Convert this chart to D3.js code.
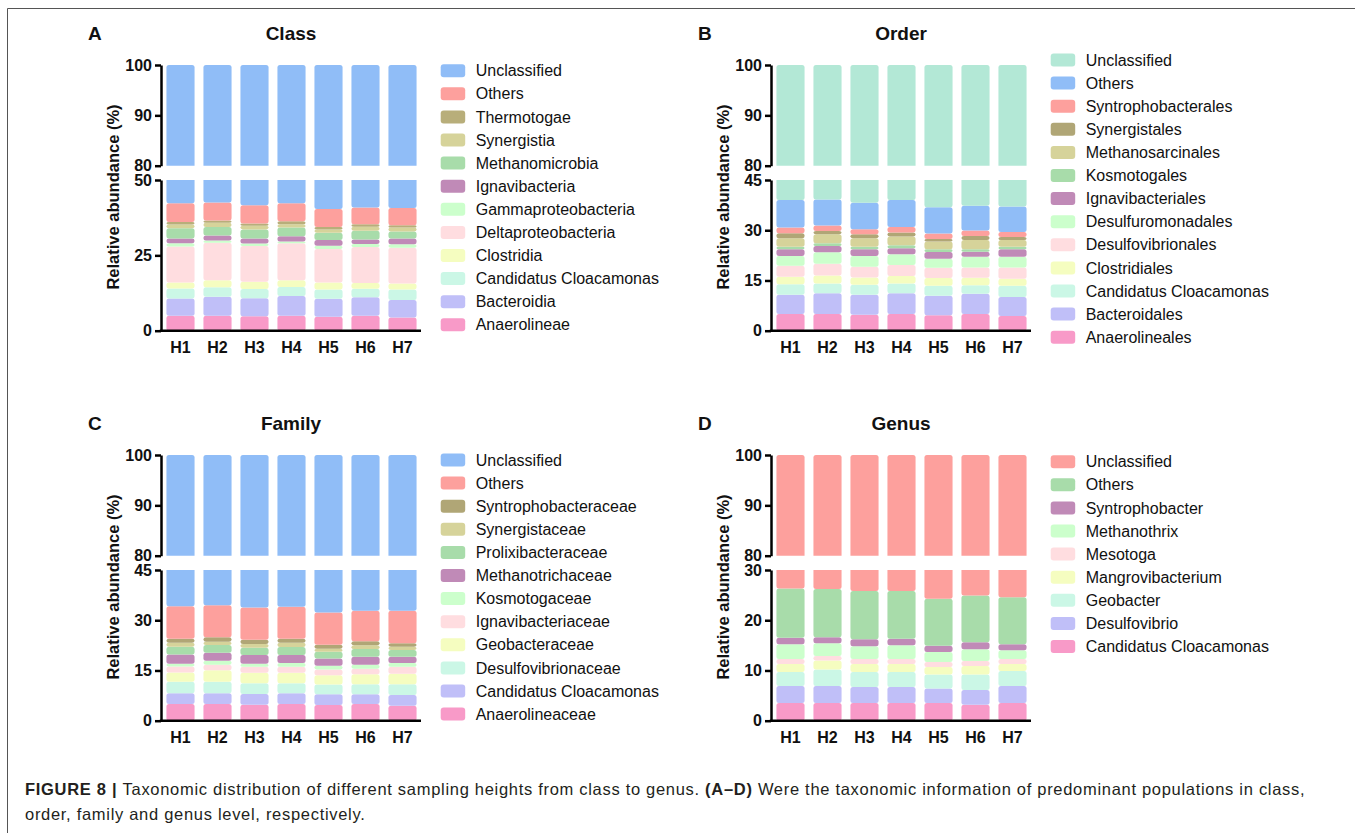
<!DOCTYPE html>
<html>
<head>
<meta charset="utf-8">
<script src="https://cdn.jsdelivr.net/npm/d3@7"></script>
<style>
  body { margin: 0; background: #fff; }
  svg { display: block; font-family: "Liberation Sans", Arial, sans-serif; }
</style>
</head>
<body>
<div id="chart"></div>
<script>
// sampling heights
const samples = ["H1", "H2", "H3", "H4", "H5", "H6", "H7"];

// ---- Class (bottom of stack first) ----
const classTaxa = ["Anaerolineae", "Bacteroidia", "Candidatus Cloacamonas", "Clostridia",
  "Deltaproteobacteria", "Gammaproteobacteria", "Ignavibacteria", "Methanomicrobia",
  "Synergistia", "Thermotogae", "Others", "Unclassified"];
const classValues = [
  [5.0, 5.0, 4.8, 5.0, 4.6, 5.0, 4.4],
  [5.7, 6.3, 6.0, 6.5, 6.0, 6.1, 5.8],
  [3.3, 3.1, 3.0, 3.0, 3.1, 2.8, 3.5],
  [2.0, 2.3, 2.4, 2.2, 2.3, 1.9, 2.0],
  [11.9, 12.5, 11.9, 12.3, 11.1, 12.0, 11.8],
  [1.1, 0.7, 0.8, 0.6, 1.1, 1.0, 1.2],
  [1.6, 1.7, 1.7, 1.7, 1.9, 1.5, 1.9],
  [3.4, 2.8, 3.0, 2.9, 2.4, 2.9, 2.3],
  [1.2, 1.4, 1.2, 1.1, 1.1, 1.3, 1.3],
  [0.9, 0.8, 0.8, 1.0, 0.8, 0.8, 0.8],
  [6.2, 5.9, 6.0, 6.0, 6.0, 5.6, 5.7],
  [57.7, 57.5, 58.4, 57.7, 59.6, 59.1, 59.3]
];
const classColors = ["#f89ac8", "#c0bff8", "#cbf7e6", "#f5fdc0", "#ffdde0", "#ccffcc",
  "#c08ab7", "#a8dcaa", "#d6d39a", "#b8ae7a", "#fda09d", "#90bdf7"];

// ---- Order ----
const orderTaxa = ["Anaerolineales", "Bacteroidales", "Candidatus Cloacamonas", "Clostridiales",
  "Desulfovibrionales", "Desulfuromonadales", "Ignavibacteriales", "Kosmotogales",
  "Methanosarcinales", "Synergistales", "Syntrophobacterales", "Others", "Unclassified"];
const orderValues = [
  [5.0, 5.0, 4.8, 5.0, 4.6, 5.0, 4.4],
  [5.7, 6.2, 5.9, 6.2, 5.8, 6.0, 5.7],
  [3.2, 2.9, 3.0, 2.9, 3.0, 2.6, 3.3],
  [2.2, 2.4, 2.2, 2.2, 2.3, 2.2, 2.1],
  [3.3, 3.5, 3.2, 3.3, 3.1, 3.1, 3.4],
  [2.9, 3.4, 3.2, 3.2, 2.7, 3.2, 3.2],
  [2.0, 1.9, 2.0, 1.8, 2.0, 1.5, 2.2],
  [0.8, 0.8, 0.8, 0.9, 0.8, 0.7, 0.8],
  [2.5, 2.7, 2.5, 2.6, 2.3, 2.8, 2.0],
  [1.5, 1.0, 1.2, 1.2, 0.8, 1.2, 0.9],
  [1.7, 1.6, 1.5, 1.7, 1.6, 1.6, 1.5],
  [8.2, 7.8, 7.9, 8.0, 7.9, 7.4, 7.6],
  [61.0, 60.8, 61.8, 61.0, 63.1, 62.7, 62.9]
];
const orderColors = ["#f89ac8", "#c0bff8", "#cbf7e6", "#f5fdc0", "#ffdde0", "#ccffcc",
  "#c08ab7", "#a8dcaa", "#d6d39a", "#b0a676", "#fda09d", "#90bdf7", "#b3e8d6"];

// ---- Family ----
const familyTaxa = ["Anaerolineaceae", "Candidatus Cloacamonas", "Desulfovibrionaceae",
  "Geobacteraceae", "Ignavibacteriaceae", "Kosmotogaceae", "Methanotrichaceae",
  "Prolixibacteraceae", "Synergistaceae", "Syntrophobacteraceae", "Others", "Unclassified"];
const familyValues = [
  [5.0, 5.0, 4.8, 5.0, 4.7, 5.0, 4.5],
  [3.2, 3.2, 3.2, 3.2, 3.2, 2.9, 3.2],
  [3.4, 3.4, 3.2, 3.0, 2.9, 3.0, 3.2],
  [2.8, 3.5, 3.1, 3.1, 2.8, 3.0, 3.1],
  [1.8, 1.6, 1.8, 1.8, 1.7, 1.6, 2.1],
  [0.8, 1.2, 0.9, 1.1, 1.1, 1.2, 1.1],
  [2.8, 2.4, 2.6, 2.4, 2.2, 2.4, 1.9],
  [2.3, 2.3, 2.2, 2.4, 2.0, 2.3, 2.0],
  [1.2, 1.0, 1.1, 1.3, 0.9, 1.1, 1.0],
  [1.2, 1.3, 1.3, 1.2, 1.2, 1.2, 1.0],
  [9.7, 9.6, 9.6, 9.5, 9.6, 9.1, 9.7],
  [65.8, 65.5, 66.2, 66.0, 67.7, 67.2, 67.2]
];
const familyColors = ["#f89ac8", "#c0bff8", "#cbf7e6", "#f5fdc0", "#ffdde0", "#ccffcc",
  "#c08ab7", "#a8dcaa", "#d6d39a", "#b0a676", "#fda09d", "#90bdf7"];

// ---- Genus ----
const genusTaxa = ["Candidatus Cloacamonas", "Desulfovibrio", "Geobacter", "Mangrovibacterium",
  "Mesotoga", "Methanothrix", "Syntrophobacter", "Others", "Unclassified"];
const genusValues = [
  [3.5, 3.5, 3.5, 3.5, 3.5, 3.2, 3.5],
  [3.4, 3.4, 3.2, 3.2, 2.9, 2.9, 3.4],
  [2.8, 3.3, 3.0, 3.0, 2.8, 3.1, 3.0],
  [1.6, 1.8, 1.6, 1.6, 1.5, 1.7, 1.4],
  [1.0, 0.9, 1.0, 1.0, 1.0, 1.0, 1.0],
  [2.9, 2.5, 2.5, 2.7, 2.0, 2.3, 1.7],
  [1.3, 1.2, 1.4, 1.3, 1.2, 1.4, 1.2],
  [9.8, 9.6, 9.6, 9.5, 9.4, 9.3, 9.4],
  [73.7, 73.8, 74.2, 74.2, 75.7, 75.1, 75.4]
];
const genusColors = ["#f89ac8", "#c0bff8", "#cbf7e6", "#f5fdc0", "#ffdde0", "#ccffcc",
  "#c08ab7", "#a8dcaa", "#fda09d"];

// axis ticks
const upperTicks = [80, 90, 100];
const classTicks = [0, 25, 50];
const orderTicks = [0, 15, 30, 45];
const familyTicks = [0, 15, 30, 45];
const genusTicks = [0, 10, 20, 30];

const panels = [
  { letter: "A", title: "Class", taxa: classTaxa, values: classValues, colors: classColors, ticks: classTicks, ox: 0, oy: 0, legendY: 70.7 },
  { letter: "B", title: "Order", taxa: orderTaxa, values: orderValues, colors: orderColors, ticks: orderTicks, ox: 610, oy: 0, legendY: 60 },
  { letter: "C", title: "Family", taxa: familyTaxa, values: familyValues, colors: familyColors, ticks: familyTicks, ox: 0, oy: 390, legendY: 460 },
  { letter: "D", title: "Genus", taxa: genusTaxa, values: genusValues, colors: genusColors, ticks: genusTicks, ox: 610, oy: 390, legendY: 461.7 }
];

const width = 1355, height = 833;
const svg = d3.select("#chart").append("svg")
  .attr("width", width)
  .attr("height", height);

// frame around the figure
svg.append("path")
  .attr("d", `M${width},8.5 H7.5 V${height}`)
  .attr("fill", "none")
  .attr("stroke", "#555")
  .attr("stroke-width", 1);

panels.forEach((p, pi) => {
  const g = svg.append("g");
  const ox = p.ox, oy = p.oy;

  // table for the stack
  const rows = samples.map((s, i) => {
    const r = { sample: s };
    p.taxa.forEach((t, k) => { r[t] = p.values[k][i]; });
    return r;
  });
  const series = d3.stack().keys(p.taxa)(rows);

  const x = d3.scaleBand().domain(samples)
    .range([162 + ox, 421 + ox])
    .paddingInner(0.24).paddingOuter(0.12);

  const lowMax = d3.max(p.ticks);
  const segments = [
    { y: d3.scaleLinear().domain([80, 100]).range([165.7 + oy, 65 + oy]), ticks: upperTicks },
    { y: d3.scaleLinear().domain([0, lowMax]).range([330.7 + oy, 180 + oy]), ticks: p.ticks }
  ];

  segments.forEach((seg, si) => {
    const [y0, y1] = seg.y.range();
    const clipId = `clip-${pi}-${si}`;
    svg.append("clipPath").attr("id", clipId)
      .append("rect")
      .attr("x", ox + 150).attr("y", y1)
      .attr("width", 290).attr("height", y0 - y1);

    const bars = g.append("g").attr("clip-path", `url(#${clipId})`);
    bars.selectAll("g")
      .data(series)
      .join("g")
      .attr("fill", (d, k) => p.colors[k])
      .selectAll("rect")
      .data(d => d)
      .join("rect")
      .attr("x", d => x(d.data.sample))
      .attr("width", x.bandwidth())
      .attr("y", d => seg.y(d[1]))
      .attr("height", d => Math.max(0, seg.y(d[0]) - seg.y(d[1])))
      .attr("rx", 2.5);

    const ax = g.append("g")
      .attr("transform", `translate(${161 + ox},0)`)
      .call(d3.axisLeft(seg.y).tickValues(seg.ticks).tickSize(6).tickSizeOuter(0).tickPadding(3));
    ax.select(".domain").attr("stroke-width", 2.5).attr("stroke", "#000");
    ax.selectAll(".tick line").attr("stroke-width", 2.5).attr("stroke", "#000");
    ax.selectAll("text")
      .attr("font-size", 16).attr("font-weight", "bold")
      .attr("font-family", "Liberation Sans, Arial, sans-serif").attr("fill", "#111");
  });

  // x axis
  const xa = g.append("g")
    .attr("transform", `translate(0,${330.7 + oy})`)
    .call(d3.axisBottom(x).tickSize(0).tickPadding(10.6));
  xa.select(".domain").attr("stroke-width", 2.5).attr("stroke", "#000")
    .attr("d", `M${159.8 + ox},0H${421 + ox}`);
  xa.selectAll("text")
    .attr("font-size", 16).attr("font-weight", "bold")
    .attr("font-family", "Liberation Sans, Arial, sans-serif").attr("fill", "#111");

  // y axis title
  g.append("text")
    .attr("transform", `translate(${119 + ox},${197 + oy}) rotate(-90)`)
    .attr("text-anchor", "middle")
    .attr("font-size", 16.5).attr("font-weight", "bold")
    .attr("fill", "#111")
    .text("Relative abundance (%)");

  // panel letter + title
  g.append("text")
    .attr("x", 88 + ox).attr("y", 40 + oy)
    .attr("font-size", 19).attr("font-weight", "bold").attr("fill", "#111")
    .text(p.letter);
  g.append("text")
    .attr("x", 291 + ox).attr("y", 40 + oy)
    .attr("text-anchor", "middle")
    .attr("font-size", 19).attr("font-weight", "bold").attr("fill", "#111")
    .text(p.title);

  // legend, top entry is last stack layer
  const legendItems = p.taxa.map((t, k) => ({ name: t, color: p.colors[k] })).reverse();
  const lg = g.append("g").attr("transform", `translate(${440.7 + ox},${p.legendY})`);
  const item = lg.selectAll("g")
    .data(legendItems)
    .join("g")
    .attr("transform", (d, i) => `translate(0,${i * 23.1})`);
  item.append("rect")
    .attr("x", 0).attr("y", -6.5)
    .attr("width", 24.5).attr("height", 13)
    .attr("rx", 3)
    .attr("fill", d => d.color);
  item.append("text")
    .attr("x", 35).attr("dy", "0.35em")
    .attr("font-size", 16).attr("fill", "#111")
    .text(d => d.name);
});

// caption
const caption = svg.append("g")
  .attr("font-size", 16.5)
  .attr("letter-spacing", 0.7)
  .attr("fill", "#231f20");
const line1 = caption.append("text").attr("x", 25).attr("y", 795);
line1.append("tspan").attr("font-weight", "bold").text("FIGURE 8 | ");
line1.append("tspan").text("Taxonomic distribution of different sampling heights from class to genus. ");
line1.append("tspan").attr("font-weight", "bold").text("(A–D)");
line1.append("tspan").text(" Were the taxonomic information of predominant populations in class,");
caption.append("text").attr("x", 25).attr("y", 820)
  .text("order, family and genus level, respectively.");
</script>
</body>
</html>
